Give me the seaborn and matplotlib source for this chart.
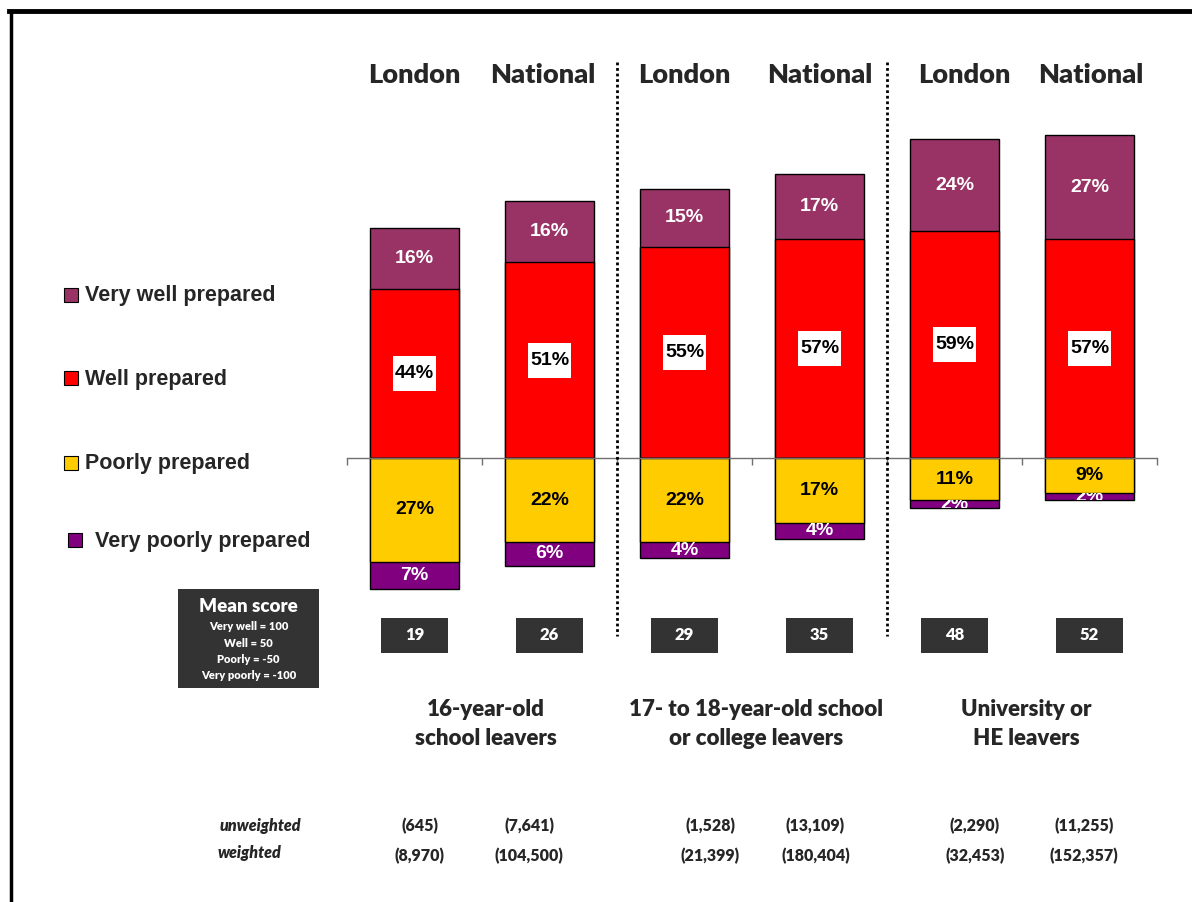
import numpy as np
import matplotlib
matplotlib.use("Agg")
import matplotlib.pyplot as plt
import seaborn as sns
from matplotlib.patches import Rectangle
from matplotlib.lines import Line2D
from matplotlib import transforms

# ---- data ----
bar_ids = ["l16", "n16", "l18", "n18", "lhe", "nhe"]
columns = ["London", "National", "London", "National", "London", "National"]
very_well = [16, 16, 15, 17, 24, 27]
well = [44, 51, 55, 57, 59, 57]
poorly = [27, 22, 22, 17, 11, 9]
very_poorly = [7, 6, 4, 4, 2, 2]
mean_scores = [19, 26, 29, 35, 48, 52]
groups = ["16-year-old\nschool leavers",
          "17- to 18-year-old school\nor college leavers",
          "University or\nHE leavers"]
unweighted = ["(645)", "(7,641)", "(1,528)", "(13,109)", "(2,290)", "(11,255)"]
weighted = ["(8,970)", "(104,500)", "(21,399)", "(180,404)", "(32,453)", "(152,357)"]
legend_labels = ["Very well prepared", "Well prepared", "Poorly prepared",
                 "Very poorly prepared"]
colors = ["#993366", "#FF0000", "#FFCC00", "#800080"]
score_key = ["Very well = 100", "Well = 50", "Poorly = -50", "Very poorly = -100"]

# ---- style ----
sns.set_theme(style="white")
plt.rcParams["font.family"] = ["Liberation Sans", "DejaVu Sans"]
LABEL_FONT = ["Lato", "DejaVu Sans"]
HEAVY = 800

W_PX, H_PX = 1192, 902
fig = plt.figure(figsize=(W_PX / 100, H_PX / 100), dpi=100)


def fx(px):
    return px / W_PX


def fy(py):
    return 1 - py / H_PX


# plotting area: x 347..1157 px, y 100..600 px, zero at 458 px
PX_PER_PCT = 3.84
ax = fig.add_axes([fx(347), fy(600), fx(1157) - fx(347), fy(100) - fy(600)])
ymin, ymax = -(600 - 458) / PX_PER_PCT, (458 - 100) / PX_PER_PCT

vw = np.array(very_well)
w = np.array(well)
p = np.array(poorly)
vp = np.array(very_poorly)

BAR_W = 0.66
bar_kw = dict(order=bar_ids, saturation=1, width=BAR_W, edgecolor="black",
              linewidth=1, errorbar=None, ax=ax)

# positive side: total first, then the "well" segment on top of it
sns.barplot(x=bar_ids, y=w + vw, color=colors[0], **bar_kw)
sns.barplot(x=bar_ids, y=w, color=colors[1], **bar_kw)
# negative side
sns.barplot(x=bar_ids, y=-(p + vp), color=colors[3], **bar_kw)
sns.barplot(x=bar_ids, y=-p, color=colors[2], **bar_kw)

ax.set_xlim(-0.5, len(bar_ids) - 0.5)
ax.set_ylim(ymin, ymax)
ax.set_xlabel("")
ax.set_ylabel("")
ax.set_yticks([])
for s in ["top", "left", "right"]:
    ax.spines[s].set_visible(False)
ax.spines["bottom"].set_position(("data", 0))
ax.spines["bottom"].set_color("#707070")
ax.spines["bottom"].set_linewidth(1)
ax.set_xticks(np.arange(-0.5, len(bar_ids), 1.0))
ax.tick_params(axis="x", direction="out", length=5, width=1, color="#707070",
               labelbottom=False, bottom=True)
ax.patch.set_alpha(0)

val_font = dict(fontsize=14, fontweight="bold", ha="center", va="center",
                family=["Liberation Sans", "DejaVu Sans"])
box_w = 43 / 135
box_h = 35 / PX_PER_PCT
for i in range(len(bar_ids)):
    # very well
    ax.text(i, w[i] + vw[i] / 2, f"{vw[i]}%", color="white", **val_font)
    # well, on a white label box
    ax.add_patch(Rectangle((i - box_w / 2, w[i] / 2 - box_h / 2), box_w, box_h,
                           facecolor="white", edgecolor="none", zorder=3))
    ax.text(i, w[i] / 2, f"{w[i]}%", color="black", zorder=4, **val_font)
    # poorly
    ax.text(i, -p[i] / 2, f"{p[i]}%", color="black", **val_font)
    # very poorly, clipped to its own segment
    t = ax.text(i, -p[i] - vp[i] / 2, f"{vp[i]}%", color="white", **val_font)
    clip = Rectangle((i - BAR_W / 2, -p[i] - vp[i]), BAR_W, vp[i],
                     transform=ax.transData)
    t.set_clip_path(clip)
    t.set_clip_on(True)

trans = transforms.blended_transform_factory(ax.transData, fig.transFigure)

# column headers
header_shift = [0.0, -0.05, 0.0, 0.0, 0.07, 0.01]
for i, name in enumerate(columns):
    fig.text(i + header_shift[i], fy(75), name, transform=trans, ha="center",
             va="center", fontsize=19.5, fontweight=HEAVY, family=LABEL_FONT)

# dotted separators between groups
for xb in [1.5, 3.5]:
    fig.add_artist(Line2D([xb, xb], [fy(62), fy(636)], transform=trans,
                          color="black", lw=2, linestyle=(0, (1, 1))))

# mean score boxes
for i, sc in enumerate(mean_scores):
    fig.add_artist(Rectangle((i - 0.245, fy(653)), 0.49, 35 / H_PX,
                             transform=trans, facecolor="#333333",
                             edgecolor="none"))
    fig.text(i, fy(635.5), str(sc), transform=trans, ha="center", va="center",
             color="white", fontsize=12, fontweight=HEAVY, family=LABEL_FONT)

# mean score key
fig.add_artist(Rectangle((fx(178), fy(688)), fx(319) - fx(178), 99 / H_PX,
                         transform=fig.transFigure, facecolor="#333333",
                         edgecolor="none"))
fig.text(fx(248.5), fy(607), "Mean score", ha="center", va="center",
         color="white", fontsize=13.5, fontweight=HEAVY, family=LABEL_FONT)
for k, line in enumerate(score_key):
    fig.text(fx(248.5), fy(627 + k * 16.3), line, ha="center", va="center",
             color="white", fontsize=8, fontweight=HEAVY, family=LABEL_FONT)

# group labels
for g, label in enumerate(groups):
    fig.text(2 * g + 0.53, fy(724), label, transform=trans, ha="center",
             va="center", fontsize=16, fontweight=HEAVY, family=LABEL_FONT,
             linespacing=1.52)

# sample sizes
size_shift = [0.04, -0.15, 0.19, -0.03, 0.15, -0.04]
fig.text(fx(260), fy(826), "unweighted", ha="center", va="center",
         fontsize=11.5, fontweight=HEAVY, style="italic", family=LABEL_FONT)
fig.text(fx(249), fy(853), "weighted", ha="center", va="center",
         fontsize=11.5, fontweight=HEAVY, style="italic", family=LABEL_FONT)
for i in range(len(bar_ids)):
    fig.text(i + size_shift[i], fy(826), unweighted[i], transform=trans,
             ha="center", va="center", fontsize=11.5, fontweight=HEAVY,
             family=LABEL_FONT)
    fig.text(i + size_shift[i], fy(856), weighted[i], transform=trans,
             ha="center", va="center", fontsize=11.5, fontweight=HEAVY,
             family=LABEL_FONT)

# legend
leg_y = [295, 378, 463, 540]
leg_sq_x = [64, 64, 64, 68]
leg_txt_x = [85, 85, 85, 95]
for k, lab in enumerate(legend_labels):
    fig.add_artist(Rectangle((fx(leg_sq_x[k]), fy(leg_y[k] + 7)), 14 / W_PX,
                             14 / H_PX, transform=fig.transFigure,
                             facecolor=colors[k], edgecolor="black", lw=0.8))
    fig.text(fx(leg_txt_x[k]), fy(leg_y[k] + 1), lab, ha="left", va="center",
             fontsize=15.5, fontweight="bold",
             family=["Liberation Sans", "DejaVu Sans"])

# frame lines along the top and left edges
fig.add_artist(Line2D([fx(9), 1], [fy(11), fy(11)], transform=fig.transFigure,
                      color="black", lw=3.5, solid_capstyle="projecting"))
fig.add_artist(Line2D([fx(11), fx(11)], [fy(11), 0], transform=fig.transFigure,
                      color="black", lw=2.5, solid_capstyle="projecting"))

fig.savefig("out.png", dpi=100)
